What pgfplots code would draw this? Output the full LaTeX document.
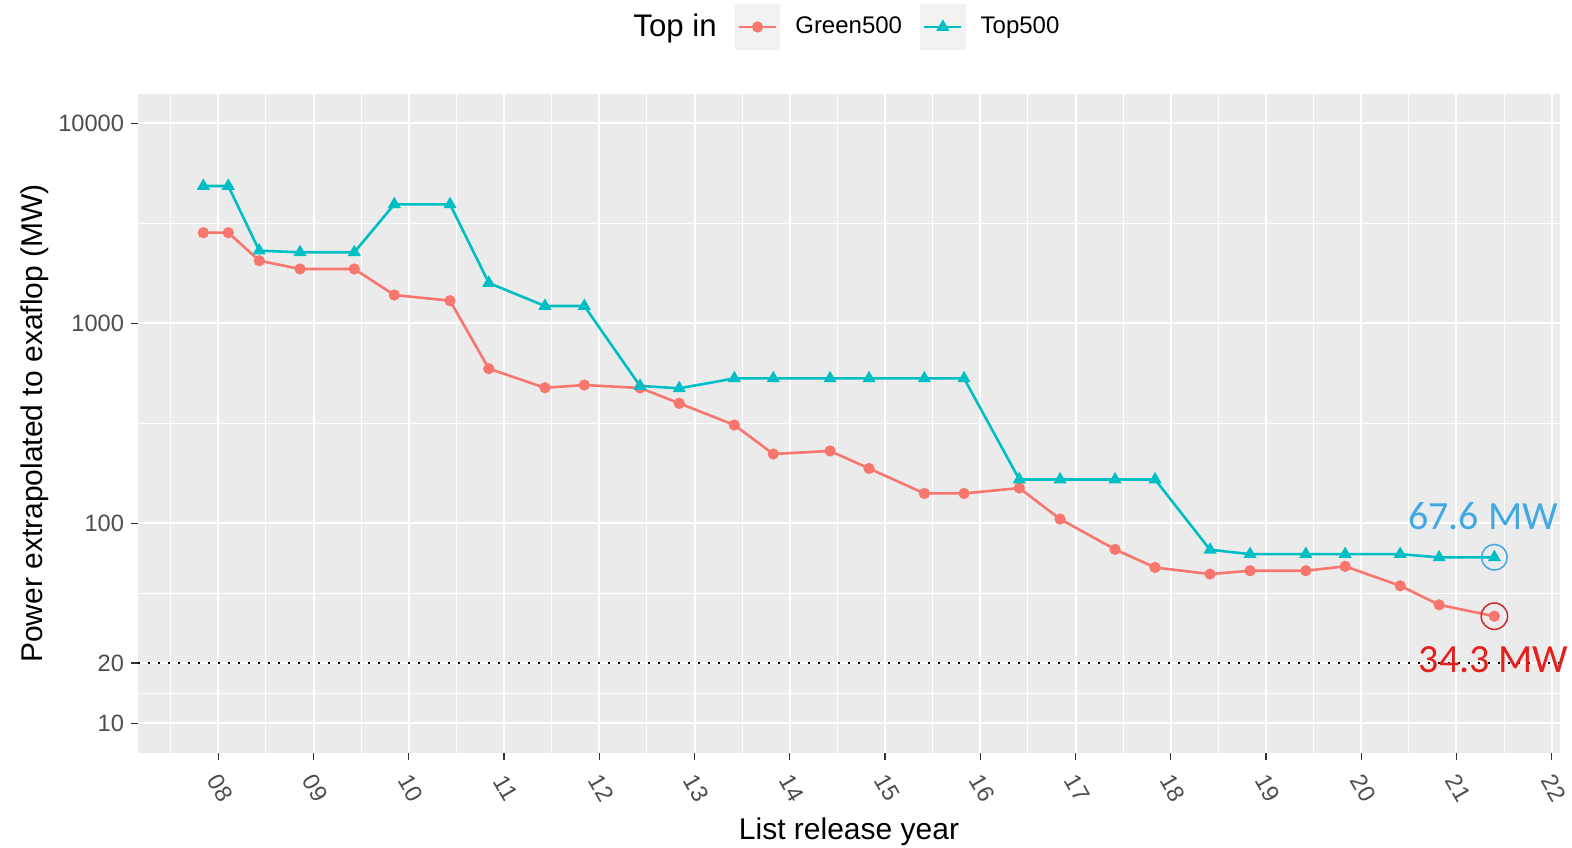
\documentclass[border=0pt]{standalone}
\usepackage{pgfplots}
\pgfplotsset{compat=1.18}
\usepackage{fontspec}
\setmainfont{Liberation Sans}
\newfontfamily\calloutfont{Carlito}

\definecolor{greenfive}{HTML}{F8766D}
\definecolor{topfive}{HTML}{00BFC4}
\definecolor{panel}{HTML}{EBEBEB}
\definecolor{keybg}{HTML}{F2F2F2}
\definecolor{ticktext}{HTML}{4D4D4D}
\definecolor{tickmark}{HTML}{333333}
\definecolor{calloutblue}{HTML}{41A8E2}
\definecolor{calloutred}{HTML}{E4201C}
\definecolor{circlered}{HTML}{CC2A2A}

% most efficient system of each list: power needed for one exaflop (MW)
\pgfplotstableread{
year  mw
7.843 2838
8.105 2838
8.430 2056
8.858 1869
9.428 1869
9.848 1385
10.433 1297
10.840 593
11.430 476
11.843 491
12.428 475
12.840 398
13.418 310
13.827 222
14.423 230
14.832 188
15.413 141
15.830 141
16.410 150
16.838 105
17.415 74
17.835 60.1
18.413 55.7
18.833 57.9
19.418 57.9
19.831 60.9
20.409 48.7
20.818 39.1
21.398 34.3
}\greentable

% fastest system of each list
\pgfplotstableread{
year  mw
7.843 4860
8.105 4860
8.430 2307
8.858 2265
9.428 2265
9.848 3936
10.433 3936
10.840 1591
11.430 1220
11.843 1220
12.428 486
12.840 473
13.418 530
13.827 530
14.423 530
14.832 530
15.413 530
15.830 530
16.410 165.6
16.838 165.6
17.415 165.6
17.835 165.6
18.413 73.7
18.833 70.1
19.418 70.1
19.831 70.1
20.409 70.1
20.818 67.5
21.398 67.6
}\toptable

\begin{document}
\begin{tikzpicture}
\path[use as bounding box] (-69pt,-47pt) rectangle (717pt,376.5pt);
\begin{axis}[
  at={(0pt,0pt)}, anchor=south west,
  scale only axis, width=711pt, height=329.5pt,
  ymode=log, clip=false,
  xmin=7.157, xmax=22.087, ymin=7.10, ymax=14015,
  axis background/.style={fill=panel},
  axis line style={draw=none},
  tick align=outside, tick pos=left,
  major tick length=3.5pt, minor tick length=0pt,
  every tick/.style={tickmark, line width=0.6pt},
  xtick={8,...,22},
  xticklabels={08,09,10,11,12,13,14,15,16,17,18,19,20,21,22},
  minor xtick={7.5,8.5,...,21.5},
  ytick={10,20,100,1000,10000},
  yticklabels={10,20,100,1000,10000},
  minor ytick={14.142,44.721,316.23,3162.3},
  grid=both,
  major grid style={white, line width=1pt},
  minor grid style={white, line width=0.5pt},
  ticklabel style={font=\fontsize{11.8}{12}\selectfont, text=ticktext},
  xticklabel style={anchor=center, yshift=-14pt, xshift=1pt, rotate=-60},
  xlabel={List release year},
  xlabel style={at={(axis description cs:0.5,-0.132)}, anchor=base,
    font=\fontsize{15}{15}\selectfont},
  ylabel={Power extrapolated to exaflop (MW)},
  ylabel style={at={(axis description cs:-0.0724,0.5)}, anchor=center,
    font=\fontsize{15}{15}\selectfont},
  legend image code/.code={
    \fill[keybg] (0pt,-10.75pt) rectangle (21.5pt,10.75pt);
    \draw[mark repeat=2, mark phase=2, #1]
      plot coordinates {(1.5pt,0pt) (10.75pt,0pt) (20pt,0pt)};
  },
  legend style={at={(axis description cs:0.3376,1.1017)}, anchor=west,
    draw=none, fill=none, inner sep=0pt,
    font=\fontsize{12}{12}\selectfont,
    nodes={inner sep=0pt},
    /tikz/every odd column/.append style={column sep=7.5pt},
    /tikz/every even column/.append style={column sep=9pt}},
  legend columns=-1,
  legend cell align=left,
]
\addlegendimage{empty legend}
\addlegendentry{\fontsize{15.6}{16}\selectfont Top in}

\addplot[black, line width=1pt, dash pattern=on 1pt off 4pt, forget plot]
  coordinates {(7.157,20) (22.087,20)};

\addplot[greenfive, line width=1.3pt, mark=*, mark size=2.5pt,
  mark options={line width=0.6pt}] table[x=year, y=mw] {\greentable};
\addlegendentry{Green500}

\addplot[topfive, line width=1.3pt, mark=triangle*, mark size=3.2pt,
  mark options={line width=0.6pt}] table[x=year, y=mw] {\toptable};
\addlegendentry{Top500}

% rings around the latest values
\addplot[calloutblue, only marks, mark=o, mark size=6.4pt,
  mark options={line width=0.75pt}, forget plot] coordinates {(21.398,67.6)};
\addplot[circlered, only marks, mark=o, mark size=6.6pt,
  mark options={line width=0.75pt}, forget plot] coordinates {(21.398,34.3)};

\node[font=\calloutfont\fontsize{20}{20}\selectfont, text=calloutblue,
  anchor=base, inner sep=0pt] at (axis cs:21.28,92.6) {67.6 MW};
\node[font=\calloutfont\fontsize{20}{20}\selectfont, text=calloutred,
  anchor=base, inner sep=0pt] at (axis cs:21.39,17.84) {34.3 MW};
\end{axis}
\end{tikzpicture}
\end{document}
